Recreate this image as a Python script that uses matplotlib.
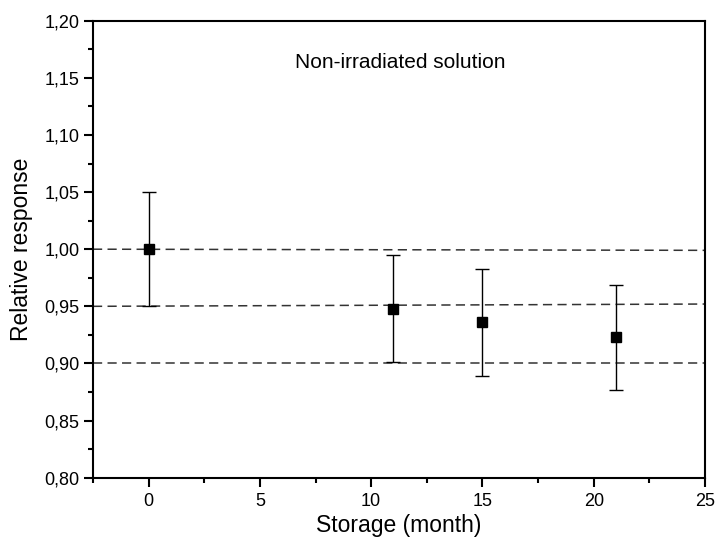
import numpy as np
import matplotlib
matplotlib.use("Agg")
import matplotlib.pyplot as plt
from matplotlib.ticker import MultipleLocator, FuncFormatter

plt.rcParams['font.family'] = ['Liberation Sans', 'DejaVu Sans']

# storage time (month) and relative response with error
months = [0, 11, 15, 21]
response = [1.000, 0.948, 0.936, 0.923]
err = [0.050, 0.047, 0.047, 0.046]

# dashed reference lines: level at left edge / right edge
ref_left = [1.000, 0.950, 0.900]
ref_right = [0.999, 0.952, 0.900]

x_min, x_max = -2.5, 25
y_min, y_max = 0.80, 1.20

fig = plt.figure(figsize=(7.16, 5.46), dpi=100)
ax = fig.add_axes([0.1299, 0.1251, 0.8547, 0.8370])

for a, b in zip(ref_left, ref_right):
    ax.plot([x_min, x_max], [a, b], color='#333333', lw=1.1,
            dashes=(6, 3.5), zorder=1)

ax.errorbar(months, response, yerr=err, fmt='s', color='black',
            ms=7, ecolor='black', elinewidth=1, capsize=5, capthick=1,
            zorder=3)

ax.text(11.3, 1.163, 'Non-irradiated solution', fontsize=15,
        ha='center', va='center')

ax.set_xlim(x_min, x_max)
ax.set_ylim(y_min, y_max)
ax.xaxis.set_major_locator(MultipleLocator(5))
ax.xaxis.set_minor_locator(MultipleLocator(2.5))
ax.yaxis.set_major_locator(MultipleLocator(0.05))
ax.yaxis.set_minor_locator(MultipleLocator(0.025))
ax.yaxis.set_major_formatter(FuncFormatter(lambda v, p: ('%.2f' % v).replace('.', ',')))

for s in ax.spines.values():
    s.set_linewidth(1.5)
ax.tick_params(which='both', direction='out', top=False, right=False, width=1.5)
ax.tick_params(which='major', length=6.3, labelsize=13)
ax.tick_params(axis='y', which='major', pad=3.6)
ax.tick_params(axis='x', which='major', pad=4.5)
ax.tick_params(which='minor', length=3.8)

ax.set_xlabel('Storage (month)', fontsize=16.5, labelpad=3)
ax.set_ylabel('Relative response', fontsize=16.5, labelpad=8)

fig.savefig('out.png', dpi=100)
